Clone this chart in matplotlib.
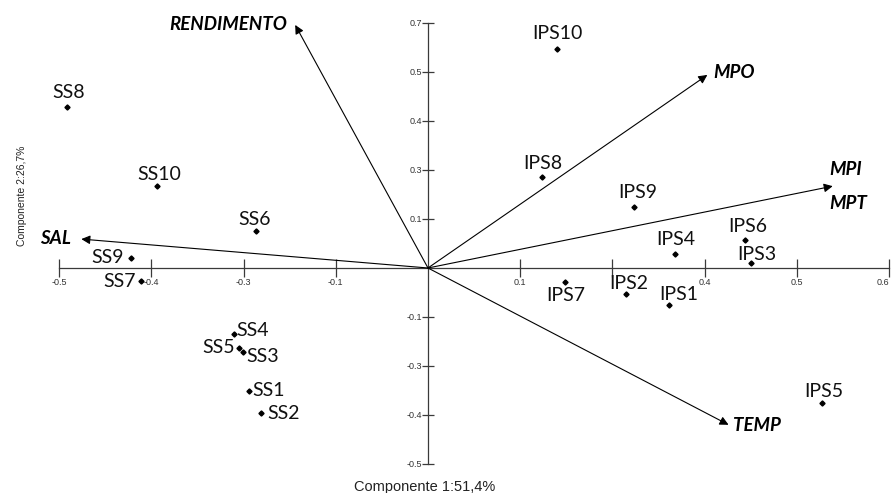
import matplotlib
matplotlib.use("Agg")
import matplotlib.pyplot as plt

# Sample scores (component 1, component 2)
labels = ["SS1", "SS2", "SS3", "SS4", "SS5", "SS6", "SS7", "SS8", "SS9", "SS10",
          "IPS1", "IPS2", "IPS3", "IPS4", "IPS5", "IPS6", "IPS7", "IPS8", "IPS9", "IPS10"]
pc1 = [-0.194, -0.181, -0.201, -0.210, -0.205, -0.186, -0.311, -0.391, -0.322, -0.294,
       0.261, 0.215, 0.350, 0.268, 0.427, 0.344, 0.149, 0.124, 0.223, 0.140]
pc2 = [-0.251, -0.296, -0.171, -0.135, -0.163, 0.076, -0.027, 0.329, 0.020, 0.167,
       -0.076, -0.053, 0.010, 0.029, -0.276, 0.057, -0.029, 0.186, 0.124, 0.447]

# Variable loadings (arrow tips)
var_names = ["RENDIMENTO", "MPO", "MPI\n\nMPT", "TEMP", "SAL"]
var_pc1 = [-0.144, 0.303, 0.439, 0.326, -0.376]
var_pc2 = [0.496, 0.394, 0.167, -0.320, 0.059]

# Tick positions and the labels printed on them
xticks = [-0.4, -0.3, -0.2, -0.1, 0.1, 0.2, 0.3, 0.4, 0.5]
xtick_labels = ["-0.5", "-0.4", "-0.3", "-0.1", "0.1", "", "0.4", "0.5", "0.6"]
yticks = [-0.4, -0.3, -0.2, -0.1, 0.1, 0.2, 0.3, 0.4, 0.5]
ytick_labels = ["-0.5", "-0.4", "-0.3", "-0.1", "0.1", "0.3", "0.4", "0.5", "0.7"]

# label placement (pixel offsets, alignment)
label_off = {
    "SS1": (3, 0, "left"), "SS2": (6, 0, "left"), "SS3": (4, -5, "left"),
    "SS4": (2, 4, "left"), "SS5": (-4, 0, "right"), "SS6": (-2, 11, "center"),
    "SS7": (-5, 0, "right"), "SS8": (1, 14, "center"), "SS9": (-7, 1, "right"),
    "SS10": (2, 12, "center"),
    "IPS1": (10, 11, "center"), "IPS2": (3, 10, "center"), "IPS3": (6, 9, "center"),
    "IPS4": (1, 14, "center"), "IPS5": (2, 12, "center"), "IPS6": (3, 14, "center"),
    "IPS7": (0, -13, "center"), "IPS8": (1, 13, "center"), "IPS9": (4, 15, "center"),
    "IPS10": (0, 15, "center"),
}
var_off = {
    "RENDIMENTO": (-8, 0, "right"), "MPO": (6, 2, "left"), "MPI\n\nMPT": (-3, 0, "left"),
    "TEMP": (4, -1, "left"), "SAL": (-10, 1, "right"),
}

fig = plt.figure(figsize=(8.91, 4.93), dpi=100)
ax = fig.add_axes([0, 0, 1, 1])
ax.set_xlim(-0.4642, 0.5022)
ax.set_ylim(-0.4592, 0.5469)

axis_col = "#3a3a3a"
for side in ["top", "right"]:
    ax.spines[side].set_visible(False)
ax.spines["left"].set_position(("data", 0))
ax.spines["bottom"].set_position(("data", 0))
ax.spines["left"].set_bounds(-0.4, 0.5)
ax.spines["bottom"].set_bounds(-0.4, 0.5)
for side in ["left", "bottom"]:
    ax.spines[side].set_color(axis_col)
    ax.spines[side].set_linewidth(0.9)

ax.set_xticks(xticks)
ax.set_xticklabels(xtick_labels)
ax.set_yticks(yticks)
ax.set_yticklabels(ytick_labels)
ax.tick_params(axis="x", direction="inout", length=13, width=0.9, color=axis_col,
               labelsize=6.5, labelcolor="#333333", pad=1)
ax.tick_params(axis="y", direction="inout", length=9, width=0.9, color=axis_col,
               labelsize=6.5, labelcolor="#333333", pad=0)
for t in ax.get_xticklabels() + ax.get_yticklabels():
    t.set_fontfamily("Liberation Sans")
# last x label sits on the figure edge: right-align it so it stays visible
ax.get_xticklabels()[-1].set_horizontalalignment("right")

# arrows
for name, vx, vy in zip(var_names, var_pc1, var_pc2):
    ax.annotate("", xy=(vx, vy), xytext=(0, 0),
                arrowprops=dict(arrowstyle="-|>", color="black", lw=0.8,
                                mutation_scale=13, shrinkA=0, shrinkB=0))
    dx, dy, ha = var_off[name]
    ax.annotate(name, xy=(vx, vy), xytext=(dx, dy), textcoords="offset pixels",
                ha=ha, va="center", fontsize=13.5, fontweight="bold", fontstyle="italic",
                fontfamily="Lato", linespacing=1.0)

# points
ax.plot(pc1, pc2, linestyle="none", marker="D", markersize=2.6, color="black")
for lab, x, y in zip(labels, pc1, pc2):
    dx, dy, ha = label_off[lab]
    ax.annotate(lab, xy=(x, y), xytext=(dx, dy), textcoords="offset pixels",
                ha=ha, va="center", fontsize=14, fontfamily="Lato", color="#111111")

fig.text(425 / 891, 1 - 487 / 493, "Componente 1:51,4%", ha="center", va="center",
         fontsize=10.5, fontfamily="Liberation Sans", color="#222222")
fig.text(22 / 891, 1 - 196 / 493, "Componente 2:26,7%", ha="center", va="center",
         rotation=90, fontsize=7.5, fontfamily="Liberation Sans", color="#222222")

fig.savefig("out.png", dpi=100)
